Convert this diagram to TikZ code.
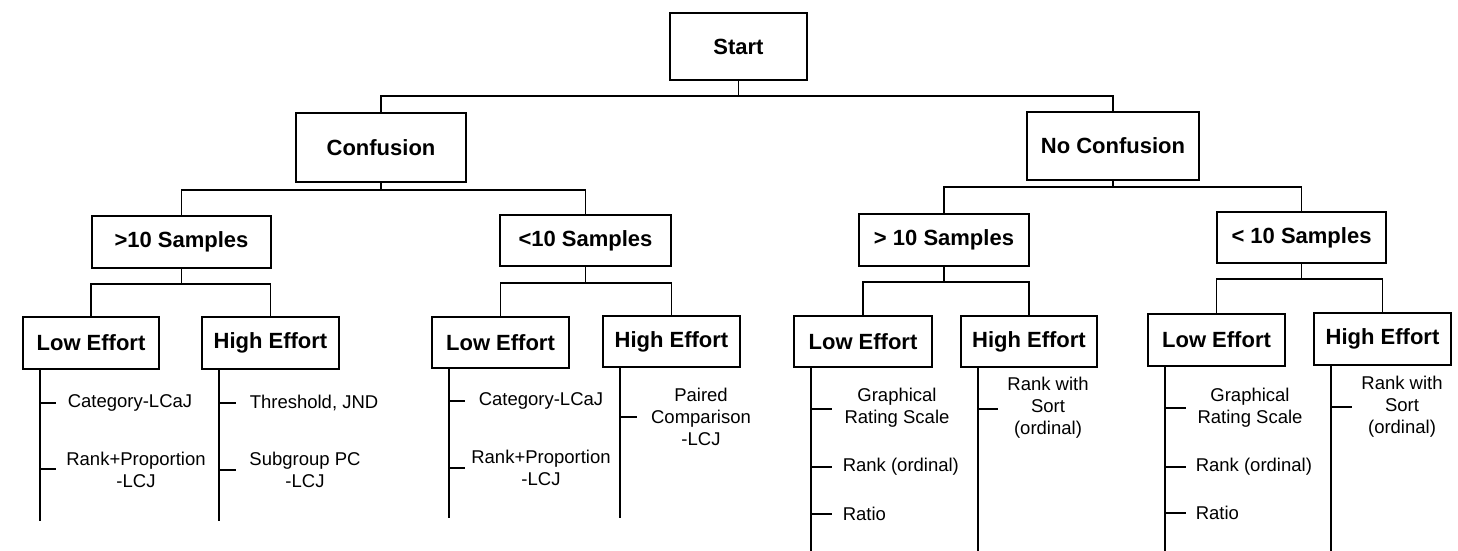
\documentclass[tikz,border=0pt]{standalone}
\usepackage{fontspec}
\setmainfont{Liberation Sans}
\begin{document}
\begin{tikzpicture}[x=1pt,y=-1pt,line width=1.5pt,
  box/.style 2 args={draw,line width=1.7pt,inner sep=0pt,
    minimum width=#1pt,minimum height=#2pt,
    font=\fontsize{22}{26}\selectfont\bfseries},
  leaf/.style={inner sep=0pt,align=center,
    font=\fontsize{18.5}{22}\selectfont},
  leafw/.style={leaf,anchor=west}]
\useasboundingbox (0,0) rectangle (1458,551);

% decision boxes
\node[box={137}{67}] (start)  at (738.5,46.5) {Start};
\node[box={170}{69}] (conf)   at (381,147.5)  {Confusion};
\node[box={172}{68}] (noconf) at (1113,146)   {No Confusion};

\node[box={179}{52}] (sA) at (181.5,242)  {>10 Samples};
\node[box={171}{51}] (sB) at (585.5,240.5){<10 Samples};
\node[box={170}{52}] (sC) at (944,240)    {> 10 Samples};
\node[box={169}{51}] (sD) at (1301.5,237.5){< 10 Samples};

\node[box={136}{52}] (lA) at (91,343)     {Low Effort};
\node[box={137}{52}] (hA) at (270.5,343)  {High Effort};
\node[box={137}{51}] (lB) at (500.5,342.5){Low Effort};
\node[box={137}{51}] (hB) at (671.5,341.5){High Effort};
\node[box={138}{51}] (lC) at (863,341.5)  {Low Effort};
\node[box={136}{51}] (hC) at (1029,341.5) {High Effort};
\node[box={137}{52}] (lD) at (1216.5,340) {Low Effort};
\node[box={137}{52}] (hD) at (1382.5,339) {High Effort};

% branch lines
\coordinate (b0) at (0,96);
\draw (start.south) -- (start.south |- b0);
\draw (conf.north) -- (conf.north |- b0) -- (noconf.north |- b0) -- (noconf.north);

\coordinate (b1) at (0,190);
\draw (conf.south) -- (conf.south |- b1);
\draw (sA.north) -- (sA.north |- b1) -- (sB.north |- b1) -- (sB.north);
\coordinate (b2) at (0,187);
\draw (noconf.south) -- (noconf.south |- b2);
\draw (sC.north) -- (sC.north |- b2) -- (sD.north |- b2) -- (sD.north);

\coordinate (bA) at (0,284);
\draw (sA.south) -- (sA.south |- bA);
\draw (lA.north) -- (lA.north |- bA) -- (hA.north |- bA) -- (hA.north);
\coordinate (bB) at (0,283);
\draw (sB.south) -- (sB.south |- bB);
\draw (lB.north) -- (lB.north |- bB) -- (hB.north |- bB) -- (hB.north);
\coordinate (bC) at (0,282);
\draw (sC.south) -- (sC.south |- bC);
\draw (lC.north) -- (lC.north |- bC) -- (hC.north |- bC) -- (hC.north);
\coordinate (bD) at (0,279);
\draw (sD.south) -- (sD.south |- bD);
\draw (lD.north) -- (lD.north |- bD) -- (hD.north |- bD) -- (hD.north);

% method stems
\foreach \b/\e in {lA/521,hA/521,lB/518,hB/518,lC/551,hC/551,lD/551,hD/551}{
  \coordinate (\b s) at ([xshift=18pt]\b.south west);
  \draw (\b s) -- (\b s |- 0,\e);
}

% methods, group A
\draw (lAs |- 0,403) -- ++(16,0);
\draw (lAs |- 0,469) -- ++(16,0);
\node[leafw] (tA1) at (67,403) {Category-LCaJ};
\node[leaf]  (tA2) at (136,469.5) {Rank+Proportion\\-LCJ};
\draw (hAs |- 0,403) -- ++(17,0);
\draw (hAs |- 0,470) -- ++(17,0);
\node[leafw] (tA3) at (249,403) {Threshold, JND};
\node[leaf]  (tA4) at (305,470) {Subgroup PC\\-LCJ};

% methods, group B
\draw (lBs |- 0,401) -- ++(16,0);
\draw (lBs |- 0,468) -- ++(16,0);
\node[leafw] (tB1) at (478,401) {Category-LCaJ};
\node[leaf]  (tB2) at (541,468) {Rank+Proportion\\-LCJ};
\draw (hBs |- 0,417) -- ++(17,0);
\node[leaf]  (tB3) at (701,417) {Paired\\Comparison\\-LCJ};

% methods, group C
\draw (lCs |- 0,409) -- ++(21,0);
\draw (lCs |- 0,467) -- ++(21,0);
\draw (lCs |- 0,514) -- ++(21,0);
\node[leaf]  (tC1) at (897,408) {Graphical\\Rating Scale};
\node[leafw] (tC2) at (842,467) {Rank (ordinal)};
\node[leafw] (tC3) at (842,514) {Ratio};
\draw (hCs |- 0,409) -- ++(20,0);
\node[leaf]  (tC4) at (1048,408) {Rank with\\Sort\\(ordinal)};

% methods, group D
\draw (lDs |- 0,408) -- ++(21,0);
\draw (lDs |- 0,467) -- ++(21,0);
\draw (lDs |- 0,513) -- ++(21,0);
\node[leaf]  (tD1) at (1250,408) {Graphical\\Rating Scale};
\node[leafw] (tD2) at (1195,467) {Rank (ordinal)};
\node[leafw] (tD3) at (1195,513) {Ratio};
\draw (hDs |- 0,407) -- ++(21,0);
\node[leaf]  (tD4) at (1402,407) {Rank with\\Sort\\(ordinal)};
\end{tikzpicture}
\end{document}
